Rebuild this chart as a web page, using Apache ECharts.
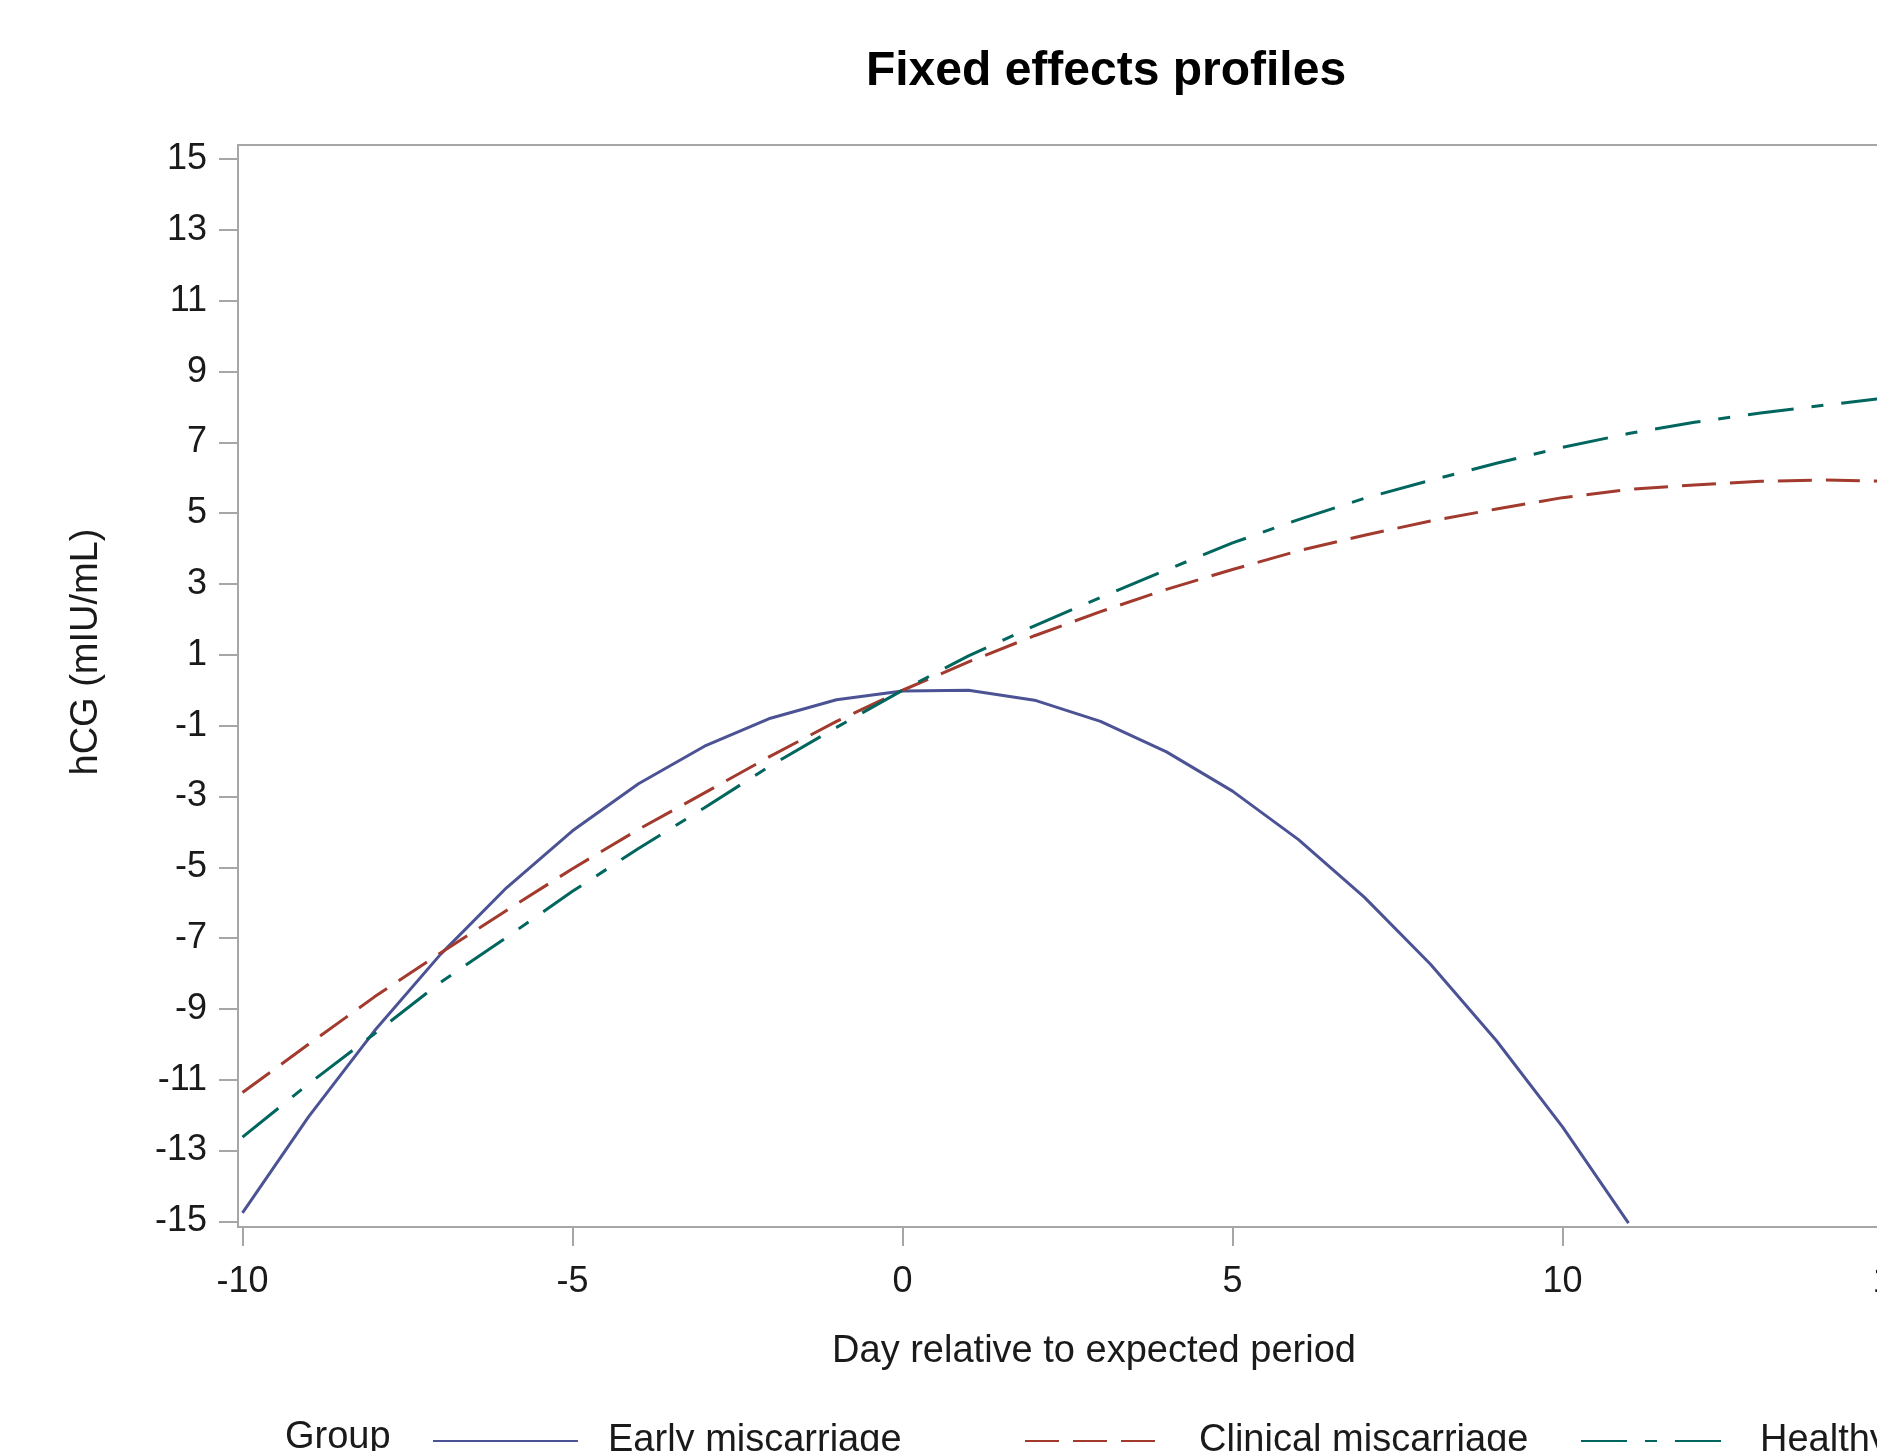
<!DOCTYPE html>
<html>
<head>
<meta charset="utf-8">
<style>
  html, body { margin: 0; padding: 0; overflow: hidden; background: #ffffff; width: 1877px; height: 1451px; }
  #chart { width: 1990px; height: 1500px; }
</style>
<script src="https://cdn.jsdelivr.net/npm/echarts@6/dist/echarts.min.js"></script>
</head>
<body>
<div id="chart"></div>
<script>
// ---- data ----
const days = [-10,-9,-8,-7,-6,-5,-4,-3,-2,-1,0,1,2,3,4,5,6,7,8,9,10,11,12,13,14,15];
const earlyMiscarriage = [-14.76,-12.05,-9.62,-7.46,-5.58,-3.97,-2.64,-1.58,-0.79,-0.27,-0.02,0.0,-0.28,-0.88,-1.74,-2.85,-4.22,-5.85,-7.74,-9.9,-12.33,-15.05];
const clinicalMiscarriage = [-11.36,-10.0,-8.66,-7.42,-6.22,-5.04,-3.93,-2.9,-1.86,-0.88,0.0,0.8,1.54,2.22,2.85,3.41,3.94,4.38,4.78,5.12,5.44,5.67,5.8,5.9,5.94,5.9];
const healthy = [-12.62,-11.12,-9.7,-8.25,-6.98,-5.68,-4.47,-3.32,-2.13,-1.05,0.0,0.97,1.82,2.62,3.4,4.16,4.82,5.42,5.93,6.41,6.86,7.25,7.57,7.83,8.06,8.28];
const xTicks = [-10,-5,0,5,10,15];
const yTicks = [-15,-13,-11,-9,-7,-5,-3,-1,1,3,5,7,9,11,13,15];
const seriesNames = ['Early miscarriage','Clinical miscarriage','Healthy'];

const pairs = (vals) => vals.map((v, i) => [days[i], v]);

const FONT = '"Liberation Sans", Arial, Helvetica, sans-serif';
const AXIS_GRAY = '#a6a6a6';
const TEXT = '#1a1a1a';

const chart = echarts.init(document.getElementById('chart'));
const legendText = { fontSize: 38, fontFamily: FONT, color: TEXT };
const hiddenSymbol = { opacity: 0, borderWidth: 0 };

chart.setOption({
  animation: false,
  backgroundColor: '#ffffff',
  grid: {
    left: 238, top: 145, width: 1659, height: 1082,
    show: true, borderColor: AXIS_GRAY, borderWidth: 2,
    containLabel: false, outerBoundsMode: 'none'
  },
  xAxis: {
    type: 'value', min: -10.068, max: 15.068,
    axisLine: { show: true, onZero: false, lineStyle: { color: AXIS_GRAY, width: 2 } },
    axisTick: { show: true, length: 19, lineStyle: { color: AXIS_GRAY, width: 2 }, customValues: xTicks },
    axisLabel: { show: true, margin: 37, fontSize: 36, fontFamily: FONT, color: TEXT, customValues: xTicks },
    splitLine: { show: false }
  },
  yAxis: {
    type: 'value', min: -15.16, max: 15.40,
    axisLine: { show: true, onZero: false, lineStyle: { color: AXIS_GRAY, width: 2 } },
    axisTick: { show: true, length: 19, lineStyle: { color: AXIS_GRAY, width: 2 }, customValues: yTicks },
    axisLabel: { show: true, margin: 31, fontSize: 36, fontFamily: FONT, color: TEXT, customValues: yTicks },
    splitLine: { show: false }
  },
  legend: [
    { data: [seriesNames[0]], left: 427, top: 1417, itemWidth: 145, itemHeight: 20, itemStyle: hiddenSymbol,
      textStyle: Object.assign({ padding: [0,0,0,25] }, legendText) },
    { data: [seriesNames[1]], left: 1019, top: 1417, itemWidth: 134, itemHeight: 20, itemStyle: hiddenSymbol,
      textStyle: Object.assign({ padding: [0,0,0,35] }, legendText) },
    { data: [seriesNames[2]], left: 1575, top: 1417, itemWidth: 144, itemHeight: 20, itemStyle: hiddenSymbol,
      textStyle: Object.assign({ padding: [0,0,0,30] }, legendText) }
  ],
  graphic: [
    { type: 'text', x: 1106, y: 72,
      style: { text: 'Fixed effects profiles', fontSize: 48, fontWeight: 'bold', fontFamily: FONT, fill: '#000000', align: 'center', verticalAlign: 'middle' } },
    { type: 'text', x: 1094, y: 1352,
      style: { text: 'Day relative to expected period', fontSize: 38, fontFamily: FONT, fill: TEXT, align: 'center', verticalAlign: 'middle' } },
    { type: 'text', x: 87, y: 652, rotation: Math.PI / 2,
      style: { text: 'hCG (mIU/mL)', fontSize: 38, fontFamily: FONT, fill: TEXT, align: 'center', verticalAlign: 'middle' } },
    { type: 'text', x: 285, y: 1438,
      style: { text: 'Group', fontSize: 38, fontFamily: FONT, fill: TEXT, align: 'left', verticalAlign: 'middle' } }
  ],
  series: [
    { name: seriesNames[0], type: 'line', data: pairs(earlyMiscarriage), symbol: 'none', smooth: false, clip: true,
      lineStyle: { color: '#4b5394', width: 3, type: 'solid' }, itemStyle: { color: '#4b5394' } },
    { name: seriesNames[1], type: 'line', data: pairs(clinicalMiscarriage), symbol: 'none', smooth: false, clip: true,
      lineStyle: { color: '#a23a2e', width: 3, type: [34, 14] }, itemStyle: { color: '#a23a2e' } },
    { name: seriesNames[2], type: 'line', data: pairs(healthy), symbol: 'none', smooth: false, clip: true,
      lineStyle: { color: '#01665e', width: 3, type: [46, 18, 12, 18] }, itemStyle: { color: '#01665e' } }
  ]
});
</script>
</body>
</html>
